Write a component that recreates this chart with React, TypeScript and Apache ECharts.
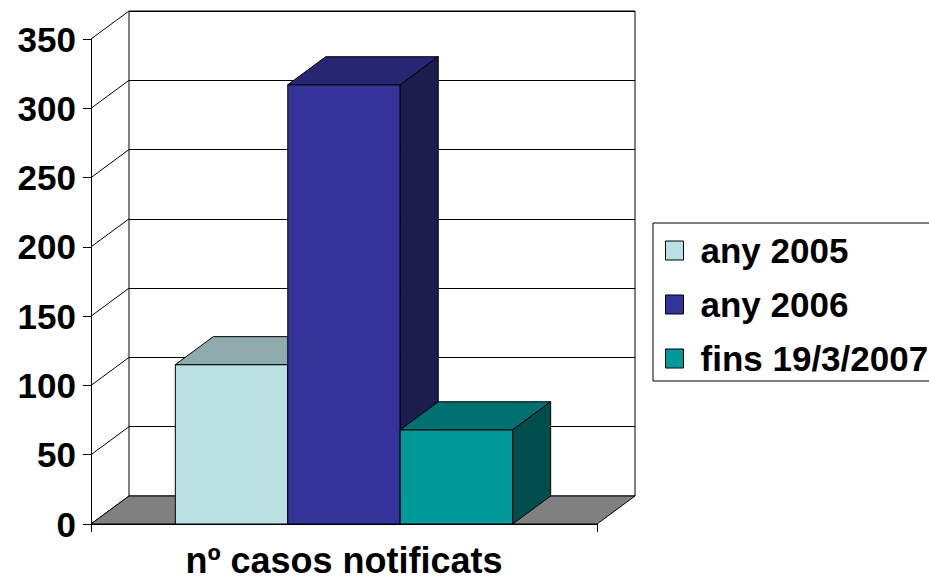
import React, { useEffect, useRef } from "react";
import * as echarts from "echarts";

const categories = ["nº casos notificats"];
const seriesNames = ["any 2005", "any 2006", "fins 19/3/2007"];
const seriesValues = [115, 317, 68];
const yTicks = [0, 50, 100, 150, 200, 250, 300, 350];

const FRONT = ["#B9E0E3", "#333399", "#009999"];
const TOP = ["#8FAAAD", "#262673", "#007070"];
const SIDE = ["#6F8587", "#1C1C4D", "#004D4D"];
const FLOOR = "#808080";

const DX = 38;
const DY = -28;
const G = { left: 91, top: 39, width: 506, height: 485 };
const FONT = "'Liberation Sans', Arial, sans-serif";

const makeBar = (i: number) => (params: any, api: any) => {
  const band = api.size([1, 0])[0];
  const c = api.coord([api.value(0), api.value(1)]);
  const yBase = api.coord([api.value(0), 0])[1];
  const bw = (band * 2) / 9;
  const x0 = c[0] - 1.5 * bw + i * bw;
  const x1 = x0 + bw;
  const yTop = c[1];
  const st = { stroke: "#000", lineWidth: 1 };
  return {
    type: "group",
    children: [
      {
        type: "polygon",
        shape: { points: [[x0, yTop], [x1, yTop], [x1, yBase], [x0, yBase]] },
        style: { fill: FRONT[i], ...st },
      },
      {
        type: "polygon",
        shape: { points: [[x0, yTop], [x0 + DX, yTop + DY], [x1 + DX, yTop + DY], [x1, yTop]] },
        style: { fill: TOP[i], ...st },
      },
      {
        type: "polygon",
        shape: { points: [[x1, yTop], [x1 + DX, yTop + DY], [x1 + DX, yBase + DY], [x1, yBase]] },
        style: { fill: SIDE[i], ...st },
      },
    ],
  };
};

export default function App() {
  const ref = useRef<HTMLDivElement>(null);
  useEffect(() => {
    if (!ref.current) return;
    const chart = echarts.init(ref.current, undefined, { renderer: "svg" });
    const option: any = {
      animation: false,
      backgroundColor: "#fff",
      textStyle: { fontFamily: FONT },
      grid: [
        { left: G.left, top: G.top, width: G.width, height: G.height, containLabel: false },
        {
          left: G.left + DX,
          top: G.top + DY,
          width: G.width,
          height: G.height,
          show: true,
          borderColor: "#000",
          borderWidth: 1,
          backgroundColor: "transparent",
        },
      ],
      xAxis: [
        {
          type: "category",
          gridIndex: 0,
          data: categories,
          axisLine: { show: true, lineStyle: { color: "#000", width: 1 } },
          axisTick: { show: true, length: 8, lineStyle: { color: "#000" } },
          axisLabel: {
            fontSize: 36,
            lineHeight: 36,
            fontWeight: "bold",
            color: "#000",
            fontFamily: FONT,
            margin: 18,
          },
          splitLine: { show: false },
        },
        { type: "category", gridIndex: 1, data: categories, show: false },
      ],
      yAxis: [
        {
          type: "value",
          gridIndex: 0,
          min: 0,
          max: 350,
          interval: 50,
          axisLine: { show: true, lineStyle: { color: "#000", width: 1 } },
          axisTick: { show: true, length: 8, lineStyle: { color: "#000" } },
          axisLabel: { fontSize: 35, fontWeight: "bold", color: "#000", fontFamily: FONT, margin: 15 },
          splitLine: { show: false },
        },
        {
          type: "value",
          gridIndex: 1,
          min: 0,
          max: 350,
          interval: 50,
          axisLine: { show: false },
          axisTick: { show: false },
          axisLabel: { show: false },
          splitLine: { show: true, lineStyle: { color: "#000", width: 1 } },
        },
      ],
      legend: {
        data: seriesNames,
        orient: "vertical",
        left: 653,
        top: 223,
        padding: [10, 60, 5, 12],
        itemGap: 19,
        itemWidth: 18,
        itemHeight: 19,
        borderColor: "#000",
        borderWidth: 1,
        borderRadius: 0,
        icon: "rect",
        itemStyle: { borderColor: "#000", borderWidth: 1 },
        textStyle: {
          fontSize: 35,
          fontWeight: "bold",
          color: "#000",
          fontFamily: FONT,
          padding: [0, 0, 0, 12],
        },
      },
      series: [
        {
          type: "custom",
          name: "walls",
          xAxisIndex: 0,
          yAxisIndex: 0,
          z: 1,
          silent: true,
          data: yTicks.map((v) => [0, v]),
          renderItem: (params: any, api: any) => {
            const cs = params.coordSys;
            const y = api.coord([0, api.value(1)])[1];
            return {
              type: "line",
              shape: { x1: cs.x, y1: y, x2: cs.x + DX, y2: y + DY },
              style: { stroke: "#000", lineWidth: 1 },
            };
          },
        },
        {
          type: "custom",
          name: "floor",
          xAxisIndex: 0,
          yAxisIndex: 0,
          z: 1,
          silent: true,
          data: [[0, 0]],
          renderItem: (params: any, api: any) => {
            const cs = params.coordSys;
            const y = api.coord([0, 0])[1];
            return {
              type: "polygon",
              shape: {
                points: [
                  [cs.x, y],
                  [cs.x + cs.width, y],
                  [cs.x + cs.width + DX, y + DY],
                  [cs.x + DX, y + DY],
                ],
              },
              style: { fill: FLOOR, stroke: "#000", lineWidth: 1 },
            };
          },
        },
        ...seriesNames.map((name, i) => ({
          type: "custom",
          name,
          xAxisIndex: 0,
          yAxisIndex: 0,
          z: 2 + i,
          itemStyle: { color: FRONT[i] },
          data: [[0, seriesValues[i]]],
          renderItem: makeBar(i),
        })),
      ],
    };
    chart.setOption(option);
    return () => chart.dispose();
  }, []);
  return (
    <div
      ref={ref}
      style={{ position: "fixed", left: 0, top: 0, width: 929, height: 579, background: "#fff" }}
    />
  );
}
